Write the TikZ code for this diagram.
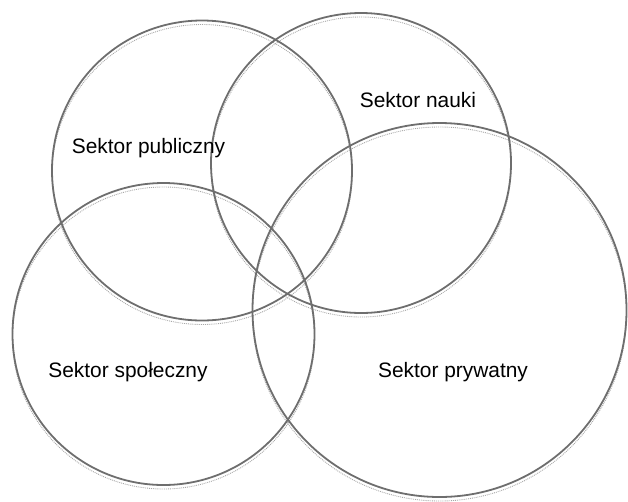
\documentclass[tikz,border=0pt]{standalone}
\usepackage{fontspec}
\setmainfont{Liberation Sans}
\usepackage{tikz}
\usetikzlibrary{calc}
\usepackage{xcolor}
\definecolor{ringcolor}{HTML}{6E6E6E}
\definecolor{shadecolor}{HTML}{A8A8A8}

\begin{document}
\begin{tikzpicture}[x=1pt, y=-1pt,
    ring/.style={draw=ringcolor, line width=1.8pt},
    ringshade/.style={draw=shadecolor, line width=0.9pt, densely dotted},
    label/.style={anchor=base, font=\fontsize{20.9}{25}\selectfont}]
    \useasboundingbox (0,0) rectangle (628,501);

    % Centres of the four sectors
    \coordinate (Pub) at (202,170.5);
    \coordinate (Nau) at (361,163);
    \coordinate (Spo) at (163.5,334);
    \coordinate (Pry) at (439.5,310);

    % Faint shadow under every ring
    \draw[ringshade] ($(Pub)+(0,4)$) circle (150);
    \draw[ringshade] ($(Nau)+(0,4)$) circle (150);
    \draw[ringshade] ($(Spo)+(0,4)$) circle (151);
    \draw[ringshade] ($(Pry)+(0,4)$) circle (187);

    % Rings
    \draw[ring] (Pub) circle (150);
    \draw[ring] (Nau) circle (150);
    \draw[ring] (Spo) circle (151);
    \draw[ring] (Pry) circle (187);

    % Sector names
    \node[label] (pub) at (148.5,153) {Sektor publiczny};
    \node[label] (nau) at (418,107) {Sektor nauki};
    \node[label] (spo) at (128,377.5) {Sektor społeczny};
    \node[label] (pry) at (453,377.5) {Sektor prywatny};
\end{tikzpicture}
\end{document}
